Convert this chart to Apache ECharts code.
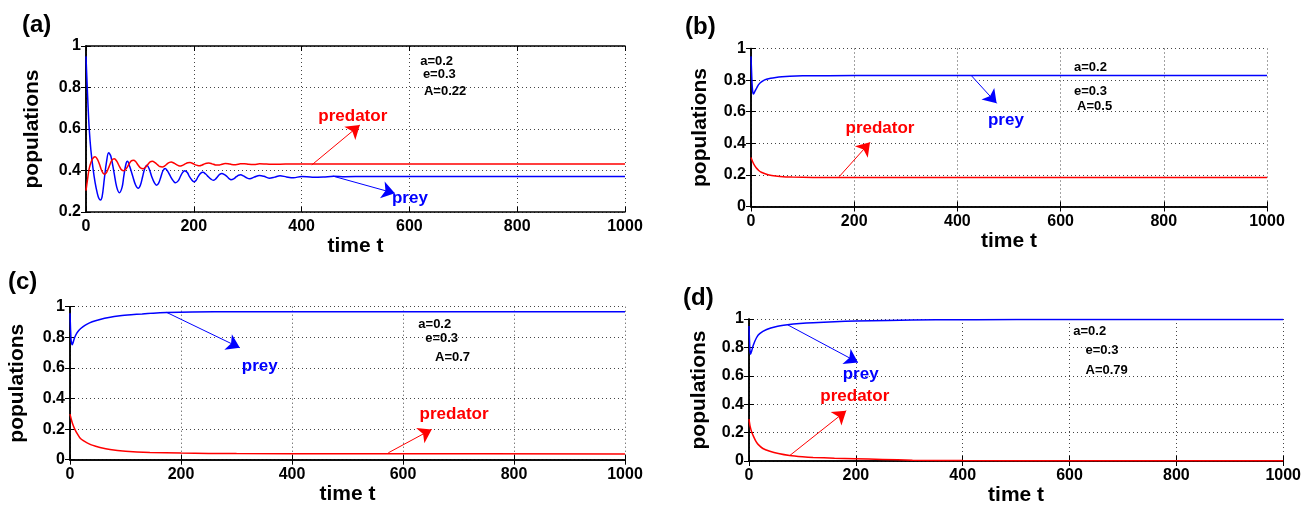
<!DOCTYPE html>
<html>
<head>
<meta charset="utf-8">
<script src="https://cdn.jsdelivr.net/npm/echarts@6/dist/echarts.min.js"></script>
<style>html,body{margin:0;padding:0;background:#fff}#c{width:1304px;height:507px}</style>
</head>
<body>
<div id="c"></div>
<script>
// ---------- data (t, population) ----------
const xTicks = [0, 200, 400, 600, 800, 1000];

const preyA = [[0,0.95],[2,0.82],[4,0.70],[6,0.60],[9,0.50],[13,0.41],[17,0.34],[21,0.29],[24,0.265],[27,0.258],[30,0.275],[34,0.36],[38,0.44],[42,0.485],[46,0.47],[52,0.39],[57,0.32],[62,0.293],[67,0.32],[70,0.37],[74,0.43],[77,0.444],[81,0.42],[87,0.37],[92,0.33],[97,0.314],[101,0.33],[105,0.37],[109,0.41],[113,0.425],[117,0.41],[122,0.37],[127,0.34],[131,0.329],[135,0.34],[139,0.37],[143,0.40],[147,0.41],[152,0.395],[157,0.37],[162,0.35],[166,0.341],[171,0.35],[175,0.37],[179,0.39],[183,0.399],[188,0.39],[192,0.37],[196,0.355],[200,0.346],[204,0.352],[208,0.37],[212,0.385],[217,0.391],[222,0.383],[227,0.37],[232,0.358],[236,0.353],[240,0.358],[244,0.37],[248,0.381],[252,0.386],[257,0.38],[262,0.37],[266,0.36],[269,0.356],[274,0.36],[279,0.37],[283,0.377],[287,0.379],[292,0.374],[297,0.366],[304,0.36],[312,0.368],[322,0.376],[330,0.372],[340,0.363],[350,0.368],[360,0.375],[372,0.369],[385,0.365],[400,0.371],[420,0.368],[440,0.369],[460,0.372],[480,0.37],[520,0.371],[600,0.371],[700,0.371],[800,0.371],[1000,0.371]];
const predA = [[0,0.303],[3,0.36],[6,0.41],[10,0.445],[14,0.463],[17,0.466],[21,0.455],[25,0.43],[29,0.40],[34,0.382],[38,0.39],[43,0.42],[48,0.45],[52.5,0.457],[57,0.445],[62,0.42],[66,0.403],[70.5,0.399],[75,0.41],[80,0.432],[84,0.446],[88,0.449],[92,0.443],[97,0.425],[101,0.413],[106,0.409],[110,0.415],[115,0.43],[119,0.441],[123,0.444],[128,0.438],[133,0.427],[137,0.419],[141.6,0.417],[146,0.422],[151,0.433],[155,0.439],[158,0.441],[163,0.436],[168,0.428],[172,0.423],[176,0.422],[180,0.426],[185,0.433],[189,0.437],[193,0.438],[198,0.434],[203,0.427],[207,0.424],[211,0.423],[215,0.426],[220,0.432],[224,0.435],[228,0.436],[234,0.432],[240,0.427],[246,0.426],[252,0.43],[258,0.434],[264,0.433],[270,0.429],[278,0.428],[286,0.432],[294,0.433],[302,0.43],[312,0.429],[322,0.432],[335,0.431],[350,0.43],[370,0.431],[400,0.431],[500,0.431],[600,0.431],[800,0.431],[1000,0.431]];

const preyB = [[0,0.95],[1,0.86],[2,0.78],[3,0.735],[4.5,0.712],[6,0.718],[8,0.732],[11,0.75],[14,0.768],[18,0.783],[24,0.797],[30,0.805],[38,0.812],[48,0.817],[60,0.821],[75,0.824],[100,0.827],[150,0.828],[250,0.829],[1000,0.829]];
const predB = [[0,0.31],[3,0.285],[6,0.265],[10,0.245],[15,0.228],[20,0.217],[30,0.204],[40,0.196],[56,0.19],[80,0.186],[120,0.184],[200,0.183],[1000,0.183]];

const preyC = [[0,0.957],[1,0.85],[2,0.78],[4,0.751],[5.5,0.765],[8,0.795],[12,0.826],[17,0.85],[23,0.868],[30,0.885],[40,0.902],[54,0.917],[70,0.93],[90,0.941],[110,0.948],[130,0.953],[150,0.958],[174,0.962],[220,0.965],[300,0.967],[400,0.967],[1000,0.967]];
const predC = [[0,0.298],[3,0.255],[6,0.222],[9,0.197],[13,0.17],[18,0.142],[24,0.124],[30,0.112],[40,0.095],[54,0.08],[72,0.066],[100,0.055],[144,0.047],[200,0.043],[300,0.04],[500,0.039],[1000,0.038]];

const preyD = [[0,0.95],[1,0.84],[2,0.77],[3,0.752],[5,0.775],[8,0.815],[14,0.868],[20,0.897],[33,0.926],[50,0.946],[72,0.959],[95,0.968],[120,0.974],[160,0.981],[200,0.986],[260,0.99],[350,0.994],[500,0.996],[1000,0.997]];
const predD = [[0,0.295],[2,0.245],[5,0.205],[8,0.177],[13,0.138],[17,0.117],[26,0.088],[39,0.069],[55,0.053],[76,0.039],[100,0.03],[120,0.025],[160,0.02],[198,0.016],[250,0.011],[306,0.006],[400,0.003],[600,0.002],[1000,0.002]];

// annotation arrows [t0, v0, t1, v1] and labels [t, v] / [t, v, text]
const arrowsA = { prey: [458,0.373,573,0.29], predator: [419,0.427,508,0.619] };
const arrowsB = { prey: [427.7,0.826,476,0.653], predator: [171,0.189,230.6,0.406] };
const arrowsC = { prey: [174,0.963,306,0.732], predator: [573.5,0.045,651.7,0.198] };
const arrowsD = { prey: [72.3,0.959,204,0.694], predator: [76.5,0.039,182,0.354] };

const namesA = { prey: [601,0.267], predator: [495,0.663] };
const namesB = { prey: [494,0.547], predator: [250,0.497] };
const namesC = { prey: [342,0.612], predator: [692,0.296] };
const namesD = { prey: [209,0.607], predator: [198,0.453] };

const paramsA = [[620,0.928,'a=0.2'],[625,0.865,'e=0.3'],[627,0.783,'A=0.22']];
const paramsB = [[626,0.881,'a=0.2'],[626,0.727,'e=0.3'],[632,0.632,'A=0.5']];
const paramsC = [[627.6,0.887,'a=0.2'],[640,0.793,'e=0.3'],[657.7,0.669,'A=0.7']];
const paramsD = [[607,0.912,'a=0.2'],[630,0.779,'e=0.3'],[630,0.637,'A=0.79']];

const panelTags = ['(a)','(b)','(c)','(d)'];

// ---------- layout ----------
const FONT = 'Liberation Sans, Arial, Helvetica, sans-serif';
const BLUE = '#0000ff', RED = '#ff0000';
const panels = [
  { grid:{left:86, top:46, width:539, height:166}, ymin:0.2, prey:preyA, pred:predA, arrows:arrowsA, names:namesA, params:paramsA, nameGap:43, tag:[22,25], smooth:0.35 },
  { grid:{left:751, top:48.5, width:516, height:158}, ymin:0, prey:preyB, pred:predB, arrows:arrowsB, names:namesB, params:paramsB, nameGap:40, tag:[685,27], smooth:0.15 },
  { grid:{left:70, top:306.7, width:555, height:153}, ymin:0, prey:preyC, pred:predC, arrows:arrowsC, names:namesC, params:paramsC, nameGap:42, tag:[8,282], smooth:0.15 },
  { grid:{left:749, top:319, width:536, height:145}, ymin:0, prey:preyD, pred:predD, arrows:arrowsD, names:namesD, params:paramsD, nameGap:39, tag:[683,298], smooth:0.15 }
];

const axisLine = { show:true, lineStyle:{ color:'#000', width:1.5 } };
const tick = { show:true, inside:true, length:5, lineStyle:{ color:'#000', width:1 } };
const split = { show:true, lineStyle:{ color:'#444', width:1, type:[1,3] } };
const tickLabel = { color:'#000', fontFamily:FONT, fontWeight:'bold', fontSize:16, formatter: v => String(v) };

const grids = [], xAxes = [], yAxes = [], series = [], graphics = [];

panels.forEach((p, i) => {
  grids.push(Object.assign({ containLabel:false }, p.grid));
  xAxes.push({ type:'value', gridIndex:i, min:xTicks[0], max:xTicks[xTicks.length-1], interval:xTicks[1]-xTicks[0],
    position:'bottom', axisLine, axisTick:tick, splitLine:split,
    axisLabel:Object.assign({ margin:7 }, tickLabel),
    name:'time t', nameLocation:'middle', nameGap:24,
    nameTextStyle:{ color:'#000', fontFamily:FONT, fontWeight:'bold', fontSize:21 } });
  xAxes.push({ type:'value', gridIndex:i, min:xTicks[0], max:xTicks[xTicks.length-1], interval:xTicks[1]-xTicks[0],
    position:'top', axisLine, axisTick:tick, splitLine:{show:false}, axisLabel:{show:false} });
  yAxes.push({ type:'value', gridIndex:i, min:p.ymin, max:1, interval:0.2, position:'left',
    axisLine, axisTick:tick, splitLine:split,
    axisLabel:Object.assign({ margin:5 }, tickLabel),
    name:'populations', nameLocation:'middle', nameGap:p.nameGap, nameRotate:90,
    nameTextStyle:{ color:'#000', fontFamily:FONT, fontWeight:'bold', fontSize:21 } });
  yAxes.push({ type:'value', gridIndex:i, min:p.ymin, max:1, interval:0.2, position:'right',
    axisLine, axisTick:tick, splitLine:{show:false}, axisLabel:{show:false} });

  const xi = i*2, yi = i*2;
  const arrowLine = (a, color) => ({
    silent:true, symbol:['none','arrow'], symbolSize:13, animation:false,
    label:{show:false}, itemStyle:{ color }, lineStyle:{ color, width:1, type:'solid' },
    emphasis:{ disabled:true },
    data:[[ {coord:[a[0],a[1]]}, {coord:[a[2],a[3]]} ]]
  });
  series.push({ type:'line', name:'prey', xAxisIndex:xi, yAxisIndex:yi, data:p.prey, showSymbol:false,
    smooth:p.smooth, lineStyle:{ color:BLUE, width:1.5 }, itemStyle:{color:BLUE}, z:3,
    markLine:arrowLine(p.arrows.prey, BLUE) });
  series.push({ type:'line', name:'predator', xAxisIndex:xi, yAxisIndex:yi, data:p.pred, showSymbol:false,
    smooth:p.smooth, lineStyle:{ color:RED, width:1.5 }, itemStyle:{color:RED}, z:3,
    markLine:arrowLine(p.arrows.predator, RED) });

  const lab = (color, size, align) => ({ color, fontSize:size, align, textBorderWidth:0, textShadowBlur:0 });
  const labels = [
    { name:'prey', value:p.names.prey, label:lab(BLUE, 17, 'center') },
    { name:'predator', value:p.names.predator, label:lab(RED, 17, 'center') }
  ].concat(p.params.map(q => ({ name:q[2], value:[q[0],q[1]], label:lab('#000', 13, 'left') })));
  series.push({ type:'scatter', xAxisIndex:xi, yAxisIndex:yi, symbolSize:0, silent:true, z:5,
    itemStyle:{ color:'#000', opacity:1 },
    label:{ show:true, position:'inside', formatter:'{b}', fontFamily:FONT, fontWeight:'bold', verticalAlign:'middle', textBorderWidth:0, opacity:1 },
    data:labels });

  graphics.push({ type:'text', x:p.tag[0], y:p.tag[1],
    style:{ text:panelTags[i], fill:'#000', font:'bold 24px ' + FONT, verticalAlign:'middle', align:'left' } });
});

const chart = echarts.init(document.getElementById('c'), null, { renderer:'canvas' });
chart.setOption({
  animation:false,
  backgroundColor:'#fff',
  grid:grids, xAxis:xAxes, yAxis:yAxes, series, graphic:graphics
});
</script>
</body>
</html>
